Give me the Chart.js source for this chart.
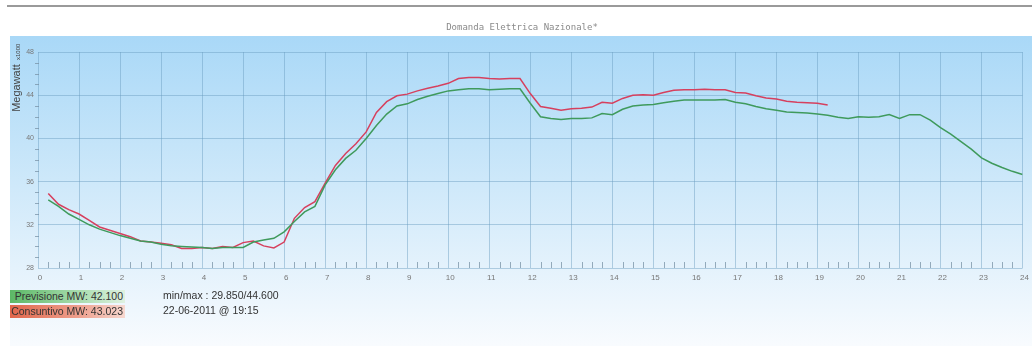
<!DOCTYPE html>
<html>
<head>
<meta charset="utf-8">
<script src="https://cdn.jsdelivr.net/npm/chart.js@4.4.1/dist/chart.umd.min.js"></script>
<style>
  html, body { margin: 0; padding: 0; background: #fff; }
  #wrap { position: relative; width: 1032px; height: 360px; overflow: hidden; }
  #myChart { position: absolute; left: 0; top: 0; }
  .box { position: absolute; left: 10px; width: 113px; height: 13px; padding-right: 2px; white-space: nowrap;
         font: 10.5px "Liberation Sans", Arial, sans-serif; color: #333; text-align: right; line-height: 13px; }
  #prev { top: 290px; background: linear-gradient(to right, #5cb866, #a8dcae 60%, #dff2e1); }
  #cons { top: 305px; background: linear-gradient(to right, #e0664c, #eea08e 60%, #f7d8d0); }
  .info { position: absolute; left: 163px; white-space: nowrap; font: 10.5px "Liberation Sans", Arial, sans-serif; color: #333; line-height: 13px; }
</style>
</head>
<body>
<div id="wrap">
  <canvas id="myChart" width="1032" height="360"></canvas>
  <div class="box" id="prev">Previsione MW: 42.100</div>
  <div class="box" id="cons">Consuntivo MW: 43.023</div>
  <div class="info" style="top:289px">min/max : 29.850/44.600</div>
  <div class="info" style="top:304px">22-06-2011 @ 19:15</div>
</div>
<script>
// valori ogni 15 minuti, da 00:15 in poi (MW x1000)
var previsione = [
  34.3, 33.7, 33.0, 32.5, 32.0, 31.6, 31.3, 31.0,
  30.75, 30.5, 30.4, 30.2, 30.05, 30.0, 29.95, 29.9,
  29.8, 29.9, 29.9, 29.9, 30.4, 30.6, 30.75, 31.35,
  32.3, 33.2, 33.7, 35.7, 37.1, 38.15, 38.9, 40.0,
  41.2, 42.25, 43.0, 43.2, 43.6, 43.9, 44.15, 44.4,
  44.5, 44.6, 44.6, 44.5, 44.55, 44.6, 44.6, 43.25,
  42.0, 41.85, 41.75, 41.85, 41.85, 41.9, 42.3, 42.2,
  42.7, 43.0, 43.1, 43.15, 43.3, 43.45, 43.55, 43.55,
  43.55, 43.55, 43.6, 43.35, 43.2, 42.95, 42.75, 42.6,
  42.45, 42.4, 42.35, 42.25, 42.15, 41.95, 41.85, 42.0,
  41.95, 42.0, 42.2, 41.85, 42.2, 42.2, 41.7, 41.0,
  40.4, 39.7, 39.0, 38.2, 37.7, 37.3, 36.95, 36.65
];
var consuntivo = [
  34.9, 33.9, 33.4, 33.0, 32.4, 31.8, 31.5, 31.2,
  30.9, 30.5, 30.4, 30.3, 30.15, 29.8, 29.8, 29.9,
  29.8, 30.0, 29.9, 30.35, 30.5, 30.05, 29.85, 30.4,
  32.6, 33.6, 34.15, 35.85, 37.5, 38.6, 39.5, 40.6,
  42.4, 43.4, 43.95, 44.1, 44.4, 44.65, 44.85, 45.1,
  45.55, 45.65, 45.65, 45.55, 45.5, 45.55, 45.55, 44.15,
  42.95, 42.8, 42.6, 42.75, 42.8, 42.9, 43.35, 43.25,
  43.7, 44.0, 44.05, 44.0, 44.25, 44.45, 44.5, 44.5,
  44.55, 44.5, 44.5, 44.25, 44.2, 43.95, 43.75, 43.65,
  43.45, 43.35, 43.3, 43.25, 43.1
];
var ore = previsione.map(function (v, i) { return (i + 1) / 4; });
var yTicks = [28, 32, 36, 40, 44, 48];

var gridColor = 'rgba(105,155,190,0.45)';

var sfondo = {
  id: 'sfondo',
  beforeDraw: function (chart) {
    var c = chart.ctx;
    c.save();
    // linea grigia in alto
    c.fillStyle = '#9a9a9a';
    c.fillRect(7, 5, 1025, 2);
    // pannello azzurro
    var g = c.createLinearGradient(0, 36, 0, 345);
    g.addColorStop(0, '#a9d8f7');
    g.addColorStop(0.35, '#c4e4f9');
    g.addColorStop(0.75, '#e4f2fc');
    g.addColorStop(1, '#f8fbfe');
    c.fillStyle = g;
    c.fillRect(10, 36, 1022, 310);
    // titolo
    c.fillStyle = '#8a8a8a';
    c.font = '9px "DejaVu Sans Mono", monospace';
    c.textAlign = 'center';
    c.textBaseline = 'middle';
    c.fillText('Domanda Elettrica Nazionale*', 522, 28);
    // titolo asse y
    c.translate(17, 88);
    c.rotate(-Math.PI / 2);
    c.fillStyle = '#444';
    c.font = '11px "Liberation Sans", Arial, sans-serif';
    c.textAlign = 'center';
    c.fillText('Megawatt', 0, 0);
    c.font = '6px "Liberation Sans", Arial, sans-serif';
    c.textAlign = 'left';
    c.fillText('x1000', 28, 1);
    c.restore();
  },
  afterDatasetsDraw: function (chart) {
    var c = chart.ctx, a = chart.chartArea;
    var xs = chart.scales.x, ys = chart.scales.y;
    c.save();
    c.strokeStyle = 'rgba(120,145,165,0.75)';
    c.lineWidth = 1;
    c.beginPath();
    for (var q = 1; q < 96; q++) {
      if (q % 4 === 0) continue;
      var px = Math.round(xs.getPixelForValue(q / 4)) + 0.5;
      c.moveTo(px, a.bottom);
      c.lineTo(px, a.bottom - 6);
    }
    for (var v = 29; v < 48; v++) {
      if (v % 4 === 0) continue;
      var py = Math.round(ys.getPixelForValue(v)) + 0.5;
      c.moveTo(a.left - 3, py);
      c.lineTo(a.left + 1, py);
    }
    c.stroke();
    c.restore();
  }
};

var ctx = document.getElementById('myChart').getContext('2d');
var myChart = new Chart(ctx, {
  type: 'line',
  data: {
    datasets: [{
      label: 'Previsione',
      data: ore.map(function (h, i) { return { x: h, y: previsione[i] }; }),
      borderColor: '#3f9a5c',
      borderWidth: 1.5,
      pointRadius: 0,
      tension: 0
    }, {
      label: 'Consuntivo',
      data: consuntivo.map(function (v, i) { return { x: ore[i], y: v }; }),
      borderColor: '#d6405e',
      borderWidth: 1.5,
      pointRadius: 0,
      tension: 0
    }]
  },
  options: {
    responsive: false,
    animation: false,
    layout: { padding: { left: 10, top: 52, right: 4, bottom: 0 } },
    scales: {
      x: {
        type: 'linear',
        min: 0,
        max: 24,
        afterFit: function (s) { s.height = 92; },
        grid: { color: gridColor, drawTicks: false },
        border: { display: false },
        ticks: {
          stepSize: 1,
          padding: 5,
          labelOffset: 2,
          color: '#777',
          font: { size: 8, family: '"Liberation Sans", Arial, sans-serif' }
        }
      },
      y: {
        min: 28,
        max: 48,
        afterFit: function (s) { s.width = 28; },
        afterBuildTicks: function (s) { s.ticks = yTicks.map(function (v) { return { value: v }; }); },
        grid: { color: gridColor, drawTicks: false },
        border: { display: false },
        ticks: {
          padding: 4,
          color: '#777',
          font: { size: 7, family: '"Liberation Sans", Arial, sans-serif' }
        }
      }
    },
    plugins: {
      legend: { display: false },
      tooltip: { enabled: false }
    }
  },
  plugins: [sfondo]
});
</script>
</body>
</html>
